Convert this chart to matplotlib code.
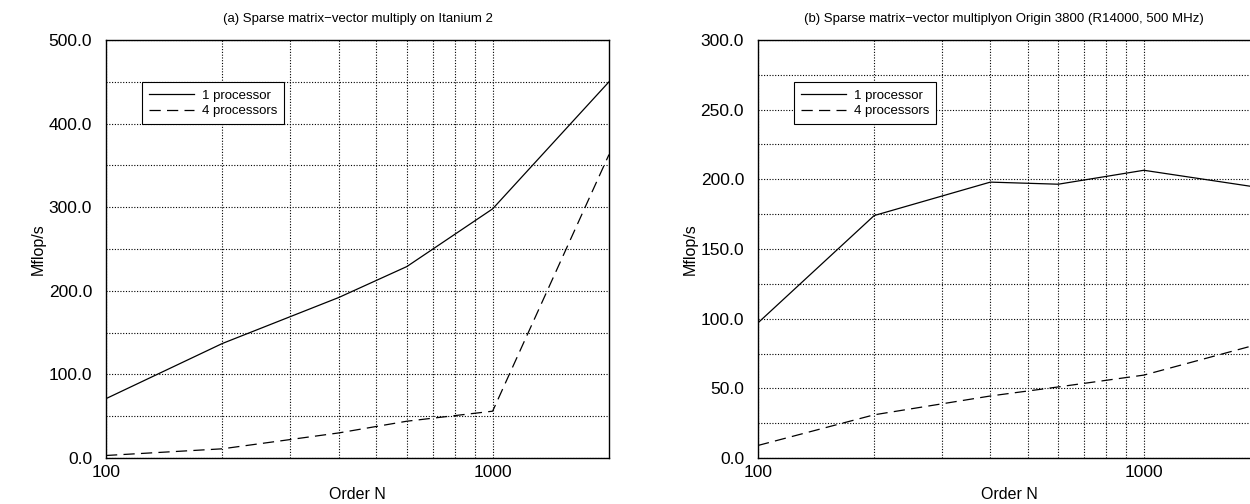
import numpy as np
import matplotlib
matplotlib.use('Agg')
import matplotlib.pyplot as plt
from matplotlib.ticker import FixedLocator, NullFormatter, FormatStrFormatter

plt.rcParams['font.family'] = ['Liberation Sans', 'DejaVu Sans']

# Данные
order_n = [100, 200, 400, 600, 1000, 2000]

itanium_1p = [71, 137, 192, 229, 298, 450]
itanium_4p = [3, 11, 30, 44, 56, 363]

origin_1p = [97, 174, 198, 196.5, 206.5, 194]
origin_4p = [9, 31, 44.5, 51, 59.5, 82]

titles = ['(a) Sparse matrix\u2212vector multiply on Itanium 2',
          '(b) Sparse matrix\u2212vector multiplyon Origin 3800 (R14000, 500 MHz)']
legend_labels = ['1 processor', '4 processors']

W, H = 1250, 504
fig = plt.figure(figsize=(W / 100, H / 100), dpi=100)

bottom = (H - 458) / H
height = 418 / H
ax1 = fig.add_axes([106 / W, bottom, 503 / W, height])
ax2 = fig.add_axes([758 / W, bottom, 502 / W, height])


def style_axes(ax, ymax, ymajor, yminor, title, tx):
    ax.set_xscale('log')
    ax.set_xlim(100, 2000)
    ax.set_ylim(0, ymax)
    ax.xaxis.set_major_locator(FixedLocator([100, 1000]))
    ax.xaxis.set_minor_locator(FixedLocator([200, 300, 400, 500, 600, 700, 800, 900]))
    ax.xaxis.set_major_formatter(FormatStrFormatter('%d'))
    ax.xaxis.set_minor_formatter(NullFormatter())
    ax.yaxis.set_major_locator(FixedLocator(np.arange(0, ymax + 1, ymajor)))
    ax.yaxis.set_minor_locator(FixedLocator(np.arange(0, ymax + 1, yminor)))
    ax.yaxis.set_major_formatter(FormatStrFormatter('%.1f'))
    ax.grid(True, which='both', linestyle=(0, (1, 1.5)), color='black', linewidth=0.8)
    ax.tick_params(which='both', length=0, labelsize=12.5)
    ax.tick_params(axis='x', pad=5)
    ax.tick_params(axis='y', pad=10)
    for s in ax.spines.values():
        s.set_linewidth(1.0)
    ax.set_title(title, fontsize=9.5, pad=13, x=tx)
    ax.set_xlabel('Order N', fontsize=11.5, labelpad=5)
    ax.set_ylabel('Mflop/s', fontsize=11.5, labelpad=2)


ax1.plot(order_n, itanium_1p, color='black', linewidth=0.9, label=legend_labels[0])
ax1.plot(order_n, itanium_4p, color='black', linewidth=0.9, linestyle=(0, (9, 5)),
         label=legend_labels[1])
style_axes(ax1, 500, 100, 50, titles[0], 0.5)

ax2.plot(order_n, origin_1p, color='black', linewidth=0.9, label=legend_labels[0])
ax2.plot(order_n, origin_4p, color='black', linewidth=0.9, linestyle=(0, (9, 5)),
         label=legend_labels[1])
style_axes(ax2, 300, 50, 25, titles[1], 0.49)

for ax in (ax1, ax2):
    leg = ax.legend(loc='upper left', bbox_to_anchor=(0.058, 0.915), fontsize=9.5,
                    frameon=True, fancybox=False, edgecolor='black', framealpha=1,
                    handlelength=3.4, borderpad=0.55, labelspacing=0.25,
                    handletextpad=0.6)
    leg.get_frame().set_linewidth(0.8)

fig.savefig('out.png', dpi=100)
